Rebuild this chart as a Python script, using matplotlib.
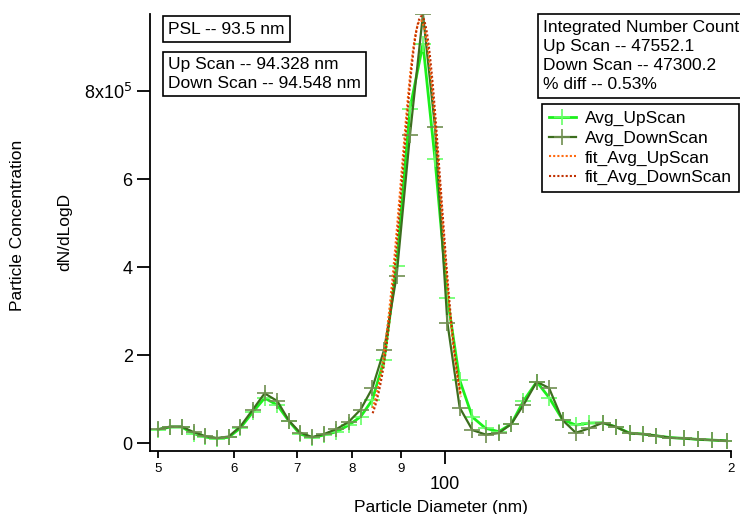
import matplotlib
matplotlib.use('Agg')
import matplotlib.pyplot as plt
import numpy as np

plt.rcParams['font.family'] = ['Liberation Sans', 'DejaVu Sans']

# particle diameter bins (nm)
diameter = [49.95, 51.46, 52.91, 54.45, 56.01, 57.62, 59.27, 60.97, 62.85, 64.67,
            66.69, 68.58, 70.46, 72.58, 74.66, 76.96, 79.29, 81.58, 83.92, 86.35,
            89.01, 91.94, 94.88, 97.68, 100.66, 103.70, 106.94, 110.45, 113.99, 117.49,
            121.01, 124.97, 128.76, 133.01, 137.37, 141.87, 146.56, 151.36, 156.47, 161.60,
            166.98, 172.75, 178.62, 184.60, 191.11, 197.88]

# dN/dLogD
up_scan = [30700, 36400, 36400, 21600, 13600, 10200, 13000, 34100, 70500, 102300,
           86400, 50000, 20500, 12500, 18200, 25700, 40900, 59800, 97700, 188600,
           403400, 760200, 906800, 645500, 329500, 143200, 59100, 33400, 26100, 43200,
           95500, 139300, 103400, 53400, 40900, 45500, 46100, 37000, 22700, 20500,
           16600, 12500, 10700, 8400, 6800, 5200]
down_scan = [31100, 37500, 37500, 25000, 15900, 11400, 14800, 37500, 76100, 113000,
             95500, 51100, 23900, 13600, 20500, 31800, 48400, 76100, 124300, 211400,
             379500, 700000, 974300, 718200, 273400, 80700, 29500, 19300, 22700, 43200,
             86400, 139300, 125000, 52300, 23400, 33400, 46100, 37000, 22000, 20500,
             16600, 12000, 10700, 8400, 6800, 5200]

# gaussian fit results
fit_range = (84.0, 104.0)
fit_up = dict(x0=94.328, amp=945000, width=6.3, base=15000)
fit_down = dict(x0=94.548, amp=955000, width=6.2, base=15000)


def gauss(x, p):
    return p['base'] + p['amp'] * np.exp(-((x - p['x0']) / p['width']) ** 2)


fig = plt.figure(figsize=(7.4, 5.14), dpi=100)
ax = fig.add_axes([150 / 740, 1 - 451 / 514, 581 / 740, 437 / 514])

up_col = '#1cf01c'
down_col = '#3c6e1e'
ax.plot(diameter, up_scan, color=up_col, lw=2, marker='+', ms=11, mew=1.2,
        mec='#66ff66', label='Avg_UpScan')
ax.plot(diameter, down_scan, color=down_col, lw=1.6, marker='+', ms=11, mew=1.2,
        mec='#6f8f50', label='Avg_DownScan')

xf = np.linspace(fit_range[0], fit_range[1], 200)
ax.plot(xf, gauss(xf, fit_up), color='#ff6a10', lw=1.5, ls=(0, (1, 1)),
        label='fit_Avg_UpScan')
ax.plot(xf, gauss(xf, fit_down), color='#c03000', lw=1.5, ls=(0, (1, 1)),
        label='fit_Avg_DownScan')

ax.set_xscale('log')
ax.set_xlim(49.0, 200.0)
ax.set_ylim(-18000, 975000)

for s in ['top', 'right']:
    ax.spines[s].set_visible(False)
for s in ['left', 'bottom']:
    ax.spines[s].set_linewidth(1.3)

ax.set_yticks([0, 200000, 400000, 600000, 800000])
ax.set_yticklabels(['0', '2', '4', '6', r'8x10$^{5}$'], fontsize=13)
ax.tick_params(axis='y', direction='out', length=9.5, width=1.3, pad=3)

ax.set_xticks([100])
ax.set_xticklabels(['100'], fontsize=13)
ax.set_xticks([50, 60, 70, 80, 90, 200], minor=True)
ax.set_xticklabels(['5', '6', '7', '8', '9', '2'], minor=True, fontsize=9.5)
ax.tick_params(axis='x', which='major', direction='out', length=9, width=1.3, pad=9)
ax.tick_params(axis='x', which='minor', direction='out', length=5, width=1.3, pad=4)

ax.set_xlabel('Particle Diameter (nm)', fontsize=12.5, labelpad=5)
fig.text(18 / 740, 1 - 225 / 514, 'Particle Concentration', rotation=90,
         ha='center', va='center', fontsize=12.5)
fig.text(65 / 740, 1 - 232 / 514, 'dN/dLogD', rotation=90,
         ha='center', va='center', fontsize=12.5)

box = dict(boxstyle='square,pad=0.3', fc='white', ec='black', lw=1.2)
fig.text(168 / 740, 1 - 29 / 514, 'PSL -- 93.5 nm', va='center', fontsize=12.5, bbox=box)
fig.text(168 / 740, 1 - 74 / 514, 'Up Scan -- 94.328 nm\nDown Scan -- 94.548 nm',
         va='center', fontsize=12.5, bbox=box, linespacing=1.35)
fig.text(543 / 740, 1 - 56 / 514,
         'Integrated Number Count\nUp Scan -- 47552.1\nDown Scan -- 47300.2\n% diff -- 0.53%',
         va='center', fontsize=12.5, bbox=box, linespacing=1.35)

leg = ax.legend(loc='upper right', bbox_to_anchor=(739 / 740, 1 - 104 / 514),
                bbox_transform=fig.transFigure, fontsize=12.5, frameon=True,
                fancybox=False, framealpha=1, edgecolor='black', numpoints=1,
                handlelength=1.6, handletextpad=0.5, labelspacing=0.25,
                borderpad=0.4, borderaxespad=0)
leg.get_frame().set_linewidth(1.2)

fig.savefig('out.png', dpi=100)
